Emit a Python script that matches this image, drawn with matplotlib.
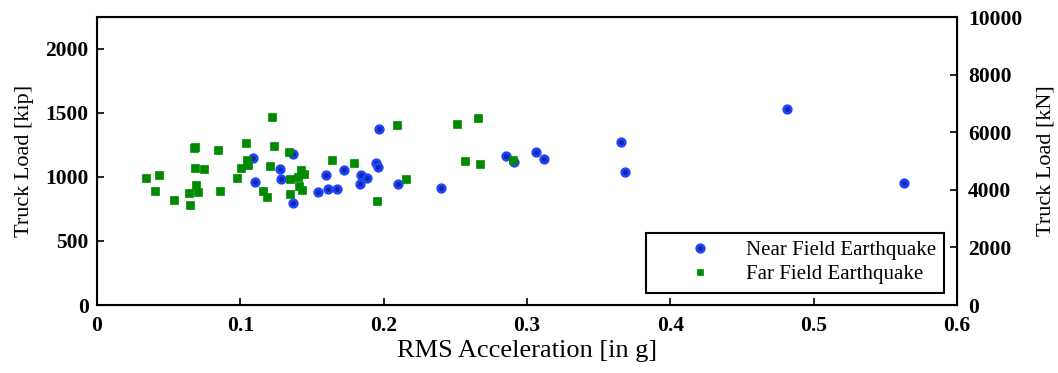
import matplotlib.pyplot as plt
from matplotlib import rc

rc('font', family=['Liberation Serif', 'DejaVu Serif'])
rc('mathtext', fontset='stix')

# RMS acceleration [g] and truck load [kip]
near_rms = [0.1090, 0.1101, 0.1278, 0.1287, 0.1364, 0.1364, 0.1545, 0.1600, 0.1614,
            0.1675, 0.1721, 0.1842, 0.1884, 0.1837, 0.1969, 0.1944, 0.1960, 0.2097,
            0.2401, 0.2852, 0.2912, 0.3065, 0.3118, 0.3655, 0.3685, 0.4811, 0.5630]
near_load = [1146, 958, 1062, 982, 1177, 794, 883, 1018, 906,
             906, 1055, 1013, 992, 948, 1375, 1107, 1076, 945,
             916, 1164, 1120, 1193, 1141, 1271, 1039, 1531, 955]

far_rms = [0.0343, 0.0435, 0.0403, 0.0535, 0.0651, 0.0644, 0.0691, 0.0702, 0.0679,
           0.0684, 0.0681, 0.0746, 0.0844, 0.0860, 0.0974, 0.1006, 0.1036, 0.1043,
           0.1050, 0.1224, 0.1234, 0.1206, 0.1157, 0.1185, 0.1341, 0.1343, 0.1347,
           0.1426, 0.1445, 0.1405, 0.1410, 0.1429, 0.1640, 0.1793, 0.2095, 0.2157,
           0.1951, 0.2510, 0.2661, 0.2568, 0.2673, 0.2905]
far_load = [995, 1018, 893, 818, 781, 873, 937, 880, 1224,
            1237, 1070, 1060, 1208, 893, 992, 1070, 1268, 1133,
            1094, 1471, 1240, 1083, 893, 841, 1198, 982, 870,
            1052, 1023, 998, 932, 898, 1133, 1112, 1409, 984,
            815, 1412, 1463, 1127, 1104, 1130]

kip_to_kn = 4.448

fig = plt.figure(figsize=(10.58, 3.73), dpi=100)
ax1 = fig.add_axes([0.0917, 0.1823, 0.8128, 0.7721])

ax1.plot(near_rms, near_load, 'o', ms=5.5, mfc='#10289a', mec='#1e44ff', mew=1.9,
         label='Near Field Earthquake', zorder=3)
ax1.plot(far_rms, far_load, 's', ms=6, mfc='#008a00', mec='#008a00', mew=0.5,
         label='Far Field Earthquake', zorder=3)

ax1.set_xlim(0, 0.6)
ax1.set_ylim(0, 10000 / kip_to_kn)
ax1.set_xticks([0, 0.1, 0.2, 0.3, 0.4, 0.5, 0.6])
ax1.set_xticklabels(['0', '0.1', '0.2', '0.3', '0.4', '0.5', '0.6'])
ax1.set_yticks([0, 500, 1000, 1500, 2000])
ax1.tick_params(direction='in', length=5, width=1.2, labelsize=15.5, top=False, right=False)
ax1.tick_params(axis='x', pad=8)
ax1.tick_params(axis='y', pad=6)
for lab in ax1.get_xticklabels() + ax1.get_yticklabels():
    lab.set_fontweight('bold')
ax1.set_xlabel('RMS Acceleration [in g]', fontsize=19, labelpad=3)
ax1.set_ylabel('Truck Load [kip]', fontsize=16, labelpad=8)
for s in ax1.spines.values():
    s.set_linewidth(1.5)

ax2 = ax1.twinx()
ax2.set_ylim(0, 10000)
ax2.set_yticks([0, 2000, 4000, 6000, 8000, 10000])
ax2.tick_params(direction='in', length=5, width=1.2, labelsize=15.5, pad=8)
for lab in ax2.get_yticklabels():
    lab.set_fontweight('bold')
ax2.set_ylabel('Truck Load [kN]', fontsize=16, labelpad=10)

leg = ax1.legend(loc='lower right', fontsize=15, fancybox=False, framealpha=1,
                 edgecolor='black', borderaxespad=0.6, handlelength=4.4,
                 handletextpad=0.0, borderpad=0.4, labelspacing=0.2)
leg.get_frame().set_linewidth(1.5)
leg.legend_handles[0].set_markersize(5.5)
leg.legend_handles[1].set_markersize(4.5)

plt.savefig('out.png', dpi=100)
